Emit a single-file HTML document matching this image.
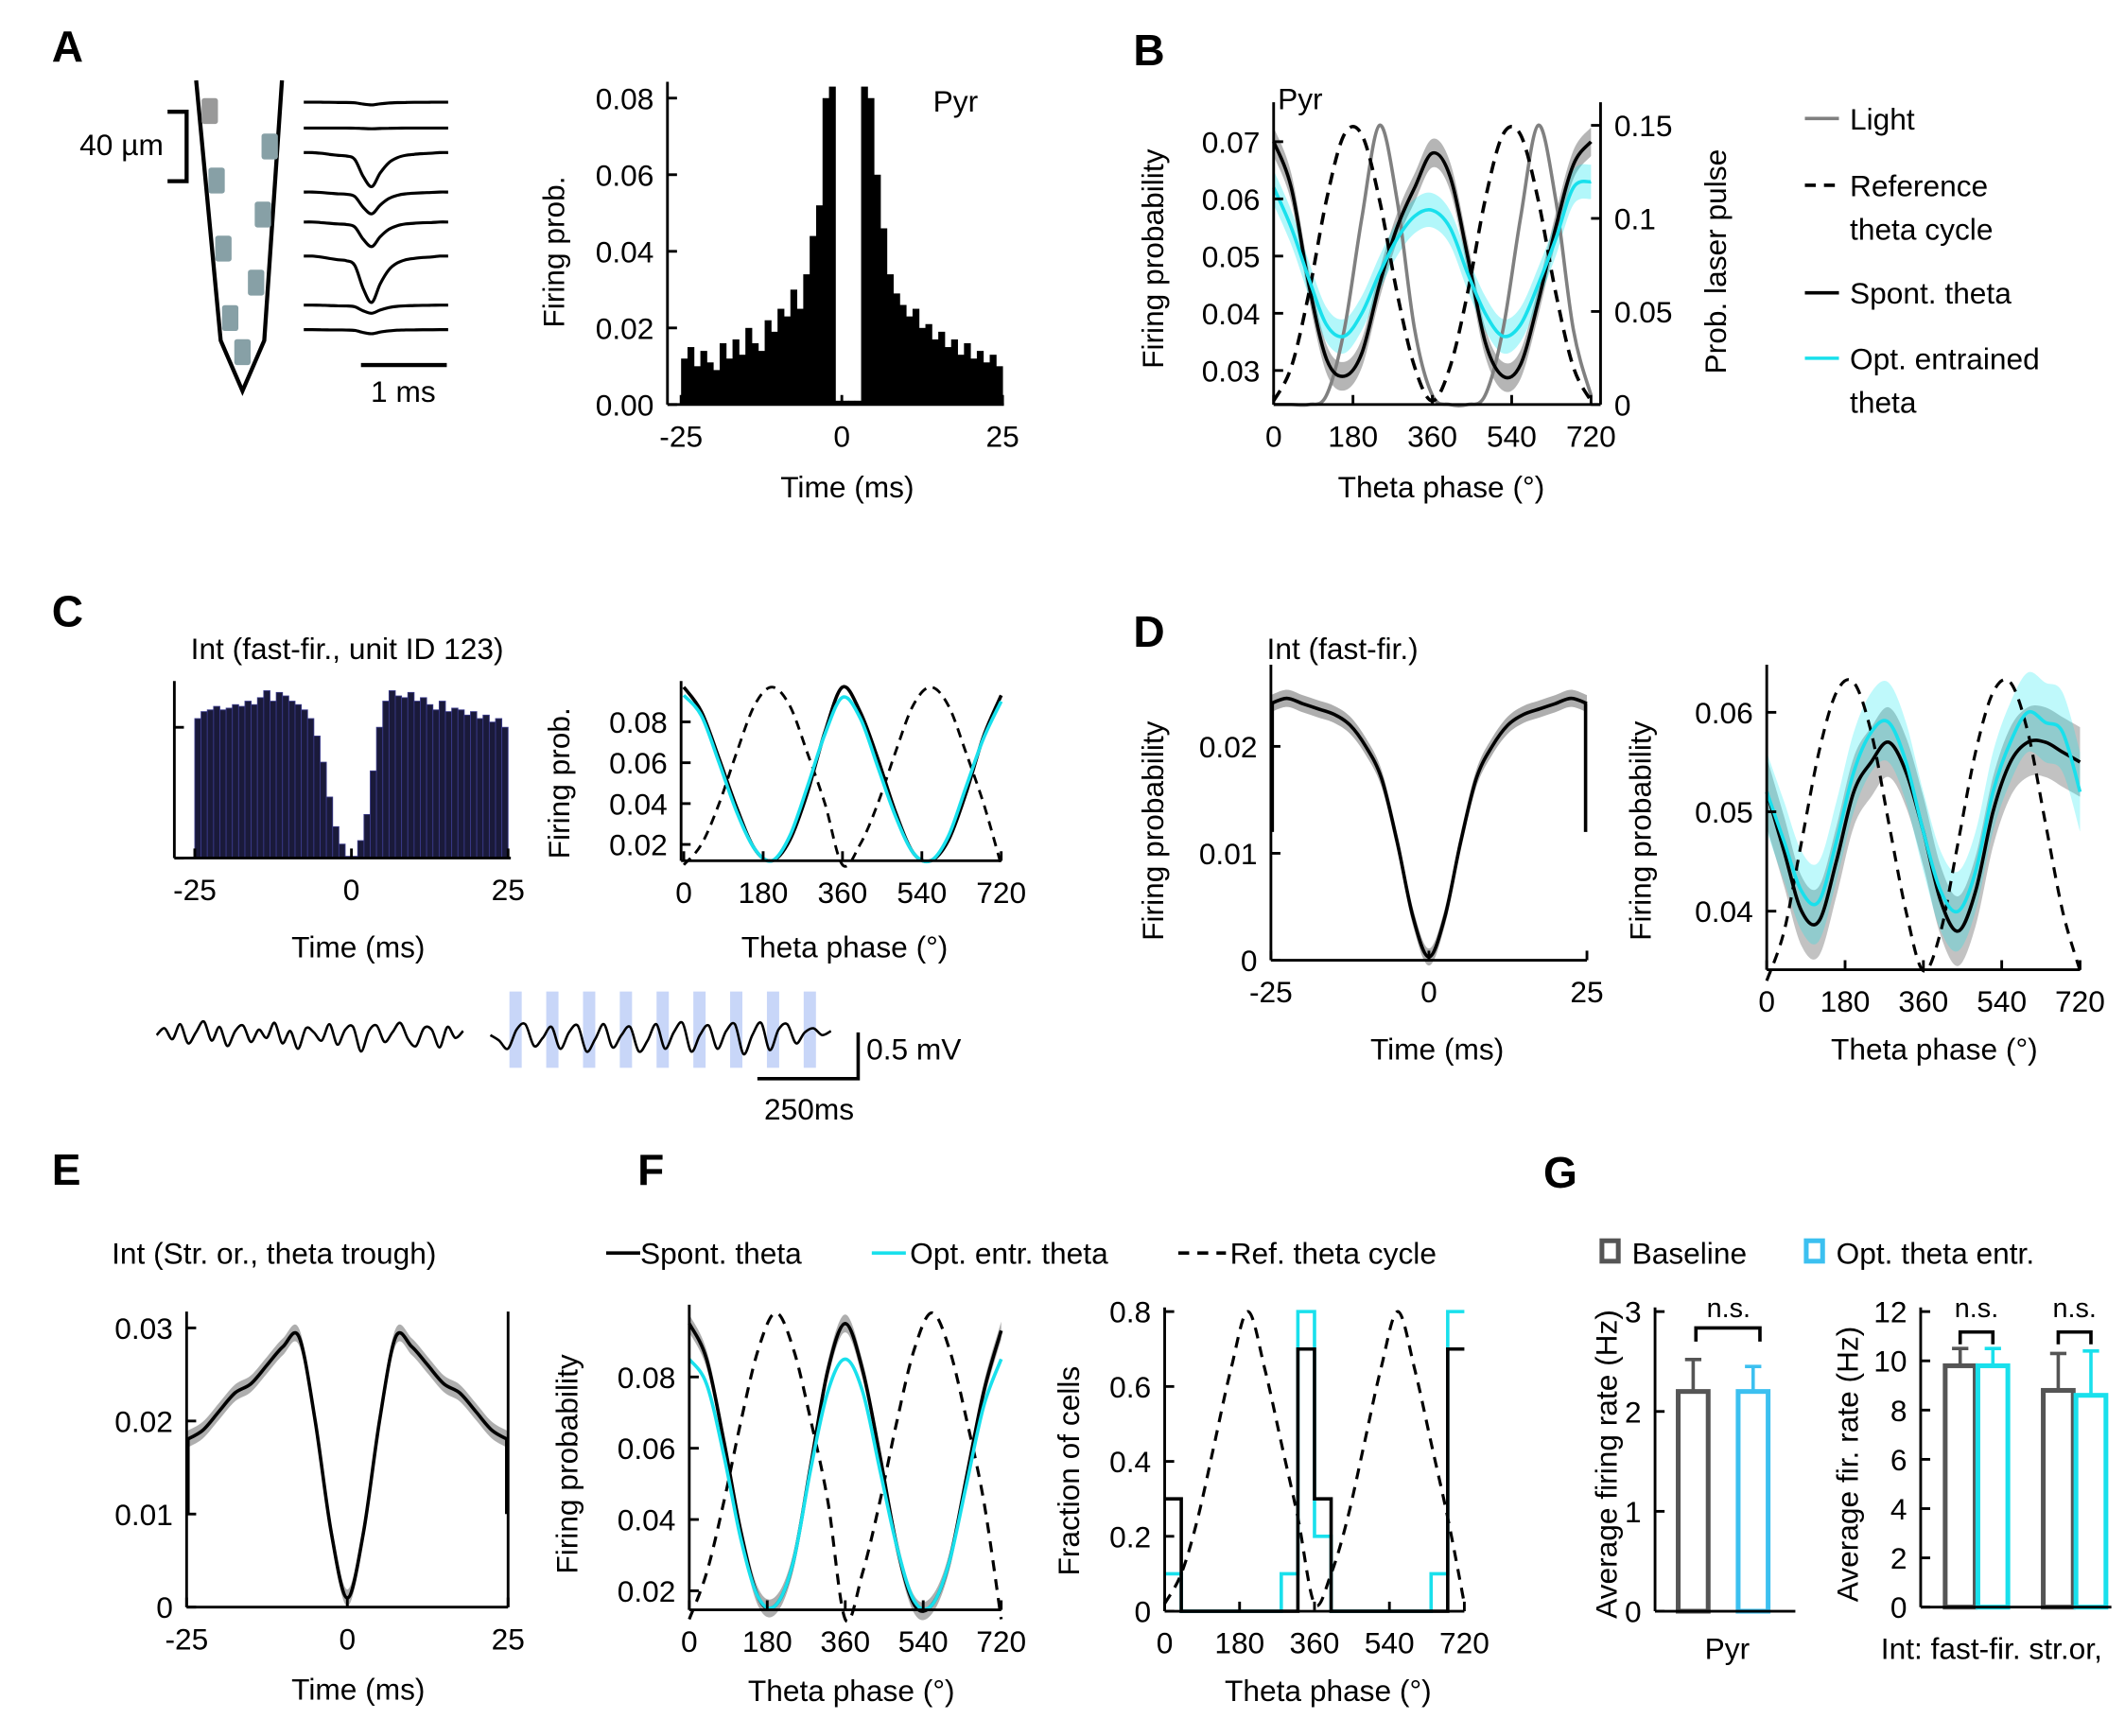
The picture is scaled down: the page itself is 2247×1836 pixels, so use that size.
<!DOCTYPE html>
<html><head><meta charset="utf-8"><style>
html,body{margin:0;padding:0;background:#fff}
svg{display:block}
text{font-family:"Liberation Sans","DejaVu Sans",sans-serif;fill:#000}
</style></head><body>
<svg id="fig" width="2247" height="1836" viewBox="0 0 1560 1274.6" xmlns="http://www.w3.org/2000/svg"></svg>
<script>
// ---------- DATA ----------
const PH = [0,40,80,120,160,200,240,280,320,360,400,440,480,520,560,600,640,680,720];
const T = [-25,-22.5,-20,-17.5,-15,-12.5,-10,-7.5,-5,-2.5,0,2.5,5,7.5,10,12.5,15,17.5,20,22.5,25];
// A
const waveBase = [75,94,112,141,163,188,224,242];
const waveAmp = [2,0.5,25,16,18,34,6,3];
const waveShape = [0,0,0.02,0.05,0.08,0.1,0.2,0.7,1,0.6,0.3,0.15,0.08,0.05,0.03,0.02,0,0];
const aHistTimes = []; for(let i=-25;i<25;i++) aHistTimes.push(i);
const aHistVals = [0.012,0.015,0.010,0.014,0.011,0.009,0.016,0.012,0.017,0.013,0.020,0.016,0.014,0.022,0.019,0.025,0.023,0.030,0.025,0.034,0.044,0.052,0.080,0.083,0.001,
                   0.001,0.001,0.001,0.083,0.080,0.060,0.046,0.034,0.029,0.026,0.023,0.025,0.020,0.021,0.017,0.019,0.015,0.017,0.013,0.016,0.012,0.014,0.011,0.013,0.010];
// B
const bSpont = [0.070,0.062,0.045,0.032,0.029,0.033,0.045,0.055,0.062,0.068,0.064,0.050,0.035,0.029,0.031,0.042,0.055,0.066,0.070];
const bOpt   = [0.062,0.055,0.046,0.038,0.036,0.040,0.047,0.053,0.057,0.058,0.055,0.047,0.040,0.036,0.038,0.045,0.053,0.062,0.063];
const bLight = [0,0,0,0.005,0.04,0.10,0.15,0.11,0.04,0.005,0,0,0.005,0.04,0.10,0.15,0.11,0.04,0.005];
const bRef   = [0.002,0.02,0.06,0.11,0.145,0.145,0.11,0.06,0.02,0.002,0.02,0.06,0.11,0.145,0.145,0.11,0.06,0.02,0.002];
// C
const cHistVals = [0.8,0.84,0.85,0.87,0.85,0.86,0.88,0.87,0.9,0.88,0.92,0.96,0.9,0.95,0.93,0.9,0.88,0.85,0.8,0.7,0.55,0.35,0.18,0.08,0.01,
                   0.01,0.1,0.25,0.5,0.75,0.9,0.96,0.93,0.92,0.95,0.9,0.92,0.88,0.85,0.9,0.84,0.86,0.85,0.82,0.84,0.8,0.82,0.78,0.8,0.75];
const cSpont = [0.097,0.085,0.062,0.038,0.018,0.012,0.022,0.045,0.075,0.097,0.085,0.062,0.036,0.016,0.012,0.022,0.045,0.073,0.093];
const cOpt   = [0.093,0.083,0.060,0.036,0.018,0.012,0.024,0.048,0.074,0.092,0.082,0.058,0.034,0.016,0.012,0.024,0.048,0.072,0.090];
const cRef   = [0.01,0.02,0.04,0.065,0.088,0.097,0.088,0.065,0.04,0.01,0.02,0.04,0.065,0.088,0.097,0.088,0.065,0.04,0.01];
const lfpSpont = [0,-5,3,-8,6,-2,-10,4,-6,8,-3,-7,5,-4,2,-9,6,-3,10,-5,-2,4,-8,7,-4,-6,12,-3,-7,5,-2,-9,3,8,-5,-4,9,-6,2,-3];
const lfpOpt   = [0,4,10,-4,-8,8,2,-6,10,-2,-7,12,3,-8,9,0,-6,12,4,-8,10,-2,-9,12,0,-7,10,-3,-8,14,0,-9,11,-4,-8,6,-2,-5,0,-3];
const pulseIdx = [0,1,2,3,4,5,6,7,8];
// D
const dTime = [0.024,0.0245,0.024,0.0235,0.023,0.022,0.020,0.017,0.011,0.004,0.0003,0.004,0.011,0.017,0.020,0.022,0.023,0.0235,0.024,0.0245,0.024];
const dSpont = [0.052,0.046,0.040,0.039,0.045,0.052,0.055,0.057,0.054,0.048,0.041,0.038,0.042,0.050,0.055,0.057,0.057,0.056,0.055];
const dOpt   = [0.052,0.047,0.042,0.041,0.047,0.054,0.058,0.059,0.055,0.048,0.042,0.040,0.044,0.052,0.057,0.060,0.059,0.058,0.052];
const dRef   = [0.033,0.038,0.047,0.056,0.062,0.063,0.058,0.049,0.040,0.034,0.038,0.047,0.056,0.062,0.063,0.058,0.049,0.040,0.034];
// E
const eTime = [0.018,0.019,0.021,0.023,0.024,0.026,0.028,0.029,0.020,0.008,0.001,0.008,0.020,0.029,0.028,0.026,0.024,0.023,0.021,0.019,0.018];
// F
const fSpont = [0.095,0.085,0.062,0.036,0.018,0.016,0.028,0.055,0.082,0.095,0.082,0.058,0.032,0.016,0.016,0.028,0.052,0.076,0.093];
const fOpt   = [0.085,0.078,0.058,0.034,0.018,0.016,0.028,0.054,0.076,0.085,0.076,0.054,0.032,0.017,0.016,0.028,0.050,0.072,0.085];
const fRef   = [0.012,0.025,0.045,0.068,0.088,0.098,0.088,0.068,0.045,0.012,0.025,0.045,0.068,0.088,0.098,0.088,0.068,0.045,0.012];
const fBins = [0,40,80,120,160,200,240,280,320,360,400,440,480,520,560,600,640,680];
const fFracSpont = [0.3,0,0,0,0,0,0,0,0.7,0.3,0,0,0,0,0,0,0,0.7];
const fFracOpt   = [0.1,0,0,0,0,0,0,0.1,0.8,0.2,0,0,0,0,0,0,0.1,0.8];
const fRefFrac   = [0.02,0.1,0.25,0.45,0.65,0.8,0.65,0.45,0.25,0.02,0.1,0.25,0.45,0.65,0.8,0.65,0.45,0.25,0.02];
// G
const gPyr = [2.2,2.2]; const gPyrErr = [2.52,2.45];
const gInt = [9.8,9.8,8.8,8.6]; const gIntErr = [10.5,10.5,10.3,10.4];

// ---------- HELPERS ----------
const NS='http://www.w3.org/2000/svg', svg=document.getElementById('fig');
function mk(tag,a,p){const e=document.createElementNS(NS,tag);for(const k in a)e.setAttribute(k,a[k]);(p||svg).appendChild(e);return e;}
function lin(d0,d1,r0,r1){return v=>r0+(v-d0)/(d1-d0)*(r1-r0);}
function txt(x,y,s,size,anchor,rot){const t=mk('text',{x:x,y:y,'font-size':size,'text-anchor':anchor||'middle'});if(rot)t.setAttribute('transform','rotate(-90 '+x+' '+y+')');t.textContent=s;return t;}
function line(x1,y1,x2,y2,w,c,dash){const l=mk('line',{x1:x1,y1:y1,x2:x2,y2:y2,stroke:c||'#000','stroke-width':w||2});if(dash)l.setAttribute('stroke-dasharray',dash);return l;}
// Catmull-Rom smoothed path through points
function smoothD(pts){let d='M'+pts[0][0].toFixed(1)+','+pts[0][1].toFixed(1);
for(let i=0;i<pts.length-1;i++){const p0=pts[Math.max(0,i-1)],p1=pts[i],p2=pts[i+1],p3=pts[Math.min(pts.length-1,i+2)];
const c1x=p1[0]+(p2[0]-p0[0])/6,c1y=p1[1]+(p2[1]-p0[1])/6,c2x=p2[0]-(p3[0]-p1[0])/6,c2y=p2[1]-(p3[1]-p1[1])/6;
d+='C'+c1x.toFixed(1)+','+c1y.toFixed(1)+' '+c2x.toFixed(1)+','+c2y.toFixed(1)+' '+p2[0].toFixed(1)+','+p2[1].toFixed(1);}return d;}
function curve(xs,ys,sx,sy,c,w,dash,name){const p=mk('path',{d:smoothD(xs.map((v,i)=>[sx(v),sy(ys[i])])),fill:'none',stroke:c,'stroke-width':w,'stroke-linejoin':'round'});if(dash)p.setAttribute('stroke-dasharray',dash);

return p;}
function band(xs,ys,e,sx,sy,c,name){const up=xs.map((v,i)=>[sx(v),sy(ys[i]+e)]);const dn=xs.map((v,i)=>[sx(v),sy(ys[i]-e)]).reverse();
const d=smoothD(up)+'L'+smoothD(dn).slice(1)+'Z';
const p=mk('path',{d:d,fill:c,stroke:'none'});

return p;}
function xAxis(y,x0,x1,sx,ticks,labels,fs,name){const l=line(x0,y,x1,y,2);


ticks.forEach((t,i)=>{line(sx(t),y,sx(t),y-7,2);const tx=txt(sx(t),y+31,labels[i],fs||22);

});}
function yAxis(x,y0,y1,sy,ticks,labels,fs,name,right){const l=line(x,y0,x,y1,2);


ticks.forEach((t,i)=>{line(x,sy(t),x+(right?-7:7),sy(t),2);if(labels){const tx=txt(right?x+10:x-10,sy(t)+8,labels[i],fs||22,right?'start':'end');

}});}
function label(x,y,s,size,name,anchor,rot,weight){const t=txt(x,y,s,size,anchor,rot);if(weight)t.setAttribute('font-weight',weight);

return t;}

// ---------- PANEL LABELS ----------
[['A',38,45],['B',832,48],['C',38,460],['D',832,475],['E',38,870],['F',468,870],['G',1133,872]].forEach(p=>{label(p[1],p[2],p[0],32,'panel-label-'+p[0].toLowerCase(),'start',false,'bold');});

// ---------- A ----------
const probe=mk('polyline',{points:'144,59 162,250 178,287 194,250 207,59',fill:'none',stroke:'#000','stroke-width':3});


[[154,82,'#999'],[198,108,'#87a0a6'],[159,133,'#87a0a6'],[193,158,'#87a0a6'],[164,183,'#87a0a6'],[188,208,'#87a0a6'],[169,234,'#87a0a6'],[178,259,'#87a0a6']].forEach(s=>{
const r=mk('rect',{x:s[0]-6,y:s[1]-10,width:12,height:19,rx:2,fill:s[2]});

});
mk('polyline',{points:'123,82 137,82 137,133 123,133',fill:'none',stroke:'#000','stroke-width':3});
label(120,114,'40 µm',22,'scale-40um','end');
const wx=lin(0,waveShape.length-1,223,329);
waveBase.forEach((b,k)=>{const p=mk('path',{d:smoothD(waveShape.map((v,i)=>[wx(i),b+v*waveAmp[k]])),fill:'none',stroke:'#000','stroke-width':2.2});

});
line(265,268,328,268,3);
label(296,295,'1 ms',22,'scale-1ms');
// A histogram
{const sx=lin(-25,25,500,736), sy=lin(0,0.08,297,72);
aHistTimes.forEach((t,i)=>{const r=mk('rect',{x:sx(t),y:sy(aHistVals[i]),width:sx(t+1)-sx(t)+0.3,height:sy(0)-sy(aHistVals[i]),fill:'#000'});

});
yAxis(490,297,60,sy,[0,0.02,0.04,0.06,0.08],['0.00','0.02','0.04','0.06','0.08'],22,'a-y-axis');
xAxis(297,490,737,sx,[-25,0,25],['-25','0','25'],22,'a-x-axis');
label(718,82,'Pyr',22,'a-title','end');
label(414,185,'Firing prob.',22,'a-y-title','middle',true);
label(622,365,'Time (ms)',22,'a-x-title');}

// ---------- B ----------
{const sx=lin(0,720,935,1168), sy=lin(0.03,0.07,272,104), sr=lin(0,0.15,297,92);
band(PH,bSpont,0.0025,sx,sy,'rgba(120,120,120,0.55)','b-spont-sem');
band(PH,bOpt,0.003,sx,sy,'rgba(0,230,240,0.3)','b-opt-sem');
curve(PH,bLight,sx,sr,'#808080',2.5,null,'b-light-curve');
curve(PH,bRef,sx,sr,'#000',2.5,'9,6','b-ref-curve');
curve(PH,bSpont,sx,sy,'#000',2.5,null,'b-spont-curve');
curve(PH,bOpt,sx,sy,'#19e0ec',2.5,null,'b-opt-curve');
yAxis(935,297,75,sy,[0.03,0.04,0.05,0.06,0.07],['0.03','0.04','0.05','0.06','0.07'],22,'b-y-axis');
yAxis(1175,297,75,sr,[0,0.05,0.1,0.15],['0','0.05','0.1','0.15'],22,'b-y2-axis',true);
xAxis(297,935,1175,sx,[0,180,360,540,720],['0','180','360','540','720'],22,'b-x-axis');
label(938,80,'Pyr',22,'b-title','start');
label(854,190,'Firing probability',22,'b-y-title','middle',true);
label(1267,192,'Prob. laser pulse',22,'b-y2-title','middle',true);
label(1058,365,'Theta phase (°)',22,'b-x-title');
line(1325,87,1350,87,2.5,'#808080'); label(1358,95,'Light',22,'legend-light','start');
line(1325,136,1350,136,2.5,'#000','8,6'); label(1358,144,'Reference',22,'legend-ref','start'); label(1358,176,'theta cycle',22,'legend-ref-2','start');
line(1325,215,1350,215,2.5,'#000'); label(1358,223,'Spont. theta',22,'legend-spont','start');
line(1325,263,1350,263,2.5,'#19e0ec'); label(1358,271,'Opt. entrained',22,'legend-opt','start'); label(1358,303,'theta',22,'legend-opt-2','start');}

// ---------- C ----------
{const sx=lin(-25,25,143,373), sy=lin(0,1,630,502);
aHistTimes.forEach((t,i)=>{const r=mk('rect',{x:sx(t),y:sy(cHistVals[i]),width:sx(t+1)-sx(t),height:sy(0)-sy(cHistVals[i]),fill:'#1a1a3a',stroke:'#3a3a8a','stroke-width':0.6});

});
yAxis(128,630,500,sy,[0,0.75],null,22,'c-y-axis');
xAxis(630,128,375,sx,[-25,0,25],['-25','0','25'],22,'c-x-axis');
label(140,484,'Int (fast-fir., unit ID 123)',22,'c-title','start');
label(263,703,'Time (ms)',22,'c-x-title');}
{const sx=lin(0,720,502,735), sy=lin(0.02,0.08,620,530);
curve(PH,cRef,sx,sy,'#000',2,'7,5','c-ref-curve');
curve(PH,cSpont,sx,sy,'#000',2.5,null,'c-spont-curve');
curve(PH,cOpt,sx,sy,'#19e0ec',2.5,null,'c-opt-curve');
yAxis(500,632,500,sy,[0.02,0.04,0.06,0.08],['0.02','0.04','0.06','0.08'],22,'c2-y-axis');
xAxis(632,500,735,sx,[0,180,360,540,720],['0','180','360','540','720'],22,'c2-x-axis');
label(418,575,'Firing prob.',22,'c2-y-title','middle',true);
label(620,703,'Theta phase (°)',22,'c2-x-title');}
{const sx1=lin(0,lfpSpont.length-1,115,340), sx2=lin(0,lfpOpt.length-1,360,610), sy=v=>760+v;
pulseIdx.forEach(k=>{const r=mk('rect',{x:374+k*27,y:728,width:9,height:56,fill:'#c8d6f8'});

});
curve(lfpSpont.map((v,i)=>i),lfpSpont,sx1,sy,'#000',1.8,null,'lfp-spont-trace');
curve(lfpOpt.map((v,i)=>i),lfpOpt,sx2,sy,'#000',1.8,null,'lfp-opt-trace');
mk('polyline',{points:'630,758 630,792 556,792',fill:'none',stroke:'#000','stroke-width':2.5});
label(636,778,'0.5 mV',22,'scale-mv','start');
label(594,822,'250ms',22,'scale-ms');}

// ---------- D ----------
{const sx=lin(-25,25,933,1165), sy=lin(0,0.02,705,548);
band(T,dTime,0.0008,sx,sy,'rgba(120,120,120,0.6)','d-sem');
curve(T,dTime,sx,sy,'#000',2.5,null,'d-acg-curve');
line(934,sy(0.012),934,sy(0.024),2.5); line(1164,sy(0.012),1164,sy(0.024),2.5);
yAxis(933,705,488,sy,[0,0.01,0.02],['0','0.01','0.02'],22,'d-y-axis');
xAxis(705,933,1165,sx,[-25,0,25],['-25','0','25'],22,'d-x-axis');
label(930,484,'Int (fast-fir.)',22,'d-title','start');
label(854,610,'Firing probability',22,'d-y-title','middle',true);
label(1055,778,'Time (ms)',22,'d-x-title');}
{const sx=lin(0,720,1297,1527), sy=lin(0.04,0.06,669,523);
band(PH,dSpont,0.0035,sx,sy,'rgba(120,120,120,0.45)','d2-spont-sem');
band(PH,dOpt,0.004,sx,sy,'rgba(0,230,240,0.25)','d2-opt-sem');
curve(PH,dRef,sx,sy,'#000',2.2,'8,6','d2-ref-curve');
curve(PH,dSpont,sx,sy,'#000',2.5,null,'d2-spont-curve');
curve(PH,dOpt,sx,sy,'#19e0ec',2.5,null,'d2-opt-curve');
yAxis(1297,712,488,sy,[0.04,0.05,0.06],['0.04','0.05','0.06'],22,'d2-y-axis');
xAxis(712,1297,1527,sx,[0,180,360,540,720],['0','180','360','540','720'],22,'d2-x-axis');
label(1212,610,'Firing probability',22,'d2-y-title','middle',true);
label(1420,778,'Theta phase (°)',22,'d2-x-title');}

// ---------- E ----------
{const sx=lin(-25,25,137,373), sy=lin(0,0.03,1180,975);
band(T,eTime,0.0009,sx,sy,'rgba(120,120,120,0.6)','e-sem');
curve(T,eTime,sx,sy,'#000',2.5,null,'e-acg-curve');
line(138,sy(0.01),138,sy(0.018),2.5); line(372,sy(0.01),372,sy(0.018),2.5);
yAxis(137,1180,963,sy,[0,0.01,0.02,0.03],['0','0.01','0.02','0.03'],22,'e-y-axis');
line(373,1180,373,963,2);
xAxis(1180,137,373,sx,[-25,0,25],['-25','0','25'],22,'e-x-axis');
label(82,928,'Int (Str. or., theta trough)',22,'e-title','start');
label(263,1248,'Time (ms)',22,'e-x-title');}

// ---------- F ----------
line(445,920,470,920,2.5); label(470,928,'Spont. theta',22,'f-legend-spont','start');
line(640,920,665,920,2.5,'#19e0ec'); label(668,928,'Opt. entr. theta',22,'f-legend-opt','start');
line(865,920,900,920,2.5,'#000','8,6'); label(903,928,'Ref. theta cycle',22,'f-legend-ref','start');
{const sx=lin(0,720,506,735), sy=lin(0.02,0.08,1168,1011);
band(PH,fSpont,0.0025,sx,sy,'rgba(120,120,120,0.6)','f-spont-sem');
curve(PH,fRef,sx,sy,'#000',2.2,'8,6','f-ref-curve');
curve(PH,fSpont,sx,sy,'#000',2.5,null,'f-spont-curve');
curve(PH,fOpt,sx,sy,'#19e0ec',2.5,null,'f-opt-curve');
yAxis(506,1182,958,sy,[0.02,0.04,0.06,0.08],['0.02','0.04','0.06','0.08'],22,'f-y-axis');
xAxis(1182,506,735,sx,[0,180,360,540,720],['0','180','360','540','720'],22,'f-x-axis');
label(424,1075,'Firing probability',22,'f-y-title','middle',true);
label(625,1249,'Theta phase (°)',22,'f-x-title');}
{const sx=lin(0,720,855,1075), sy=lin(0,0.8,1183,963);
curve(PH,fRefFrac,sx,sy,'#000',2.2,'8,6','f2-ref-curve');
function steps(vals,c,name){let d='';fBins.forEach((b,i)=>{d+=(i?'L':'M')+sx(b).toFixed(1)+','+sy(vals[i]).toFixed(1)+'L'+sx(b+40).toFixed(1)+','+sy(vals[i]).toFixed(1);});
const p=mk('path',{d:d,fill:'none',stroke:c,'stroke-width':2.5});

}
steps(fFracOpt,'#19e0ec','f2-opt-hist');
steps(fFracSpont,'#000','f2-spont-hist');
yAxis(855,1183,960,sy,[0,0.2,0.4,0.6,0.8],['0','0.2','0.4','0.6','0.8'],22,'f2-y-axis');
xAxis(1183,855,1075,sx,[0,180,360,540,720],['0','180','360','540','720'],22,'f2-x-axis');
label(792,1080,'Fraction of cells',22,'f2-y-title','middle',true);
label(975,1249,'Theta phase (°)',22,'f2-x-title');}

// ---------- G ----------
{const s1=mk('rect',{x:1176,y:911,width:12,height:15,fill:'none',stroke:'#555','stroke-width':3.5});


label(1198,928,'Baseline',22,'g-legend-baseline','start');
const s2=mk('rect',{x:1326,y:911,width:12,height:15,fill:'none',stroke:'#3cc0f0','stroke-width':3.5});


label(1348,928,'Opt. theta entr.',22,'g-legend-opt','start');}
function gBars(vals,errs,xs,sy,cols,name){vals.forEach((v,i)=>{
const r=mk('rect',{x:xs[i],y:sy(v),width:22,height:sy(0)-sy(v),fill:'none',stroke:cols[i],'stroke-width':3.5});


line(xs[i]+11,sy(v),xs[i]+11,sy(errs[i]),2.5,cols[i]);
line(xs[i]+5,sy(errs[i]),xs[i]+17,sy(errs[i]),2.5,cols[i]);});}
{const sy=lin(0,3,1183,963);
gBars(gPyr,gPyrErr,[1232,1276],sy,['#555','#3cc0f0'],'g-pyr');
yAxis(1215,1183,960,sy,[0,1,2,3],['0','1','2','3'],22,'g-y-axis');
line(1215,1183,1318,1183,2);
mk('polyline',{points:'1245,985 1245,975 1292,975 1292,985',fill:'none',stroke:'#000','stroke-width':2.5});
label(1269,967,'n.s.',20,'g-ns-pyr');
label(1187,1075,'Average firing rate (Hz)',22,'g-y-title','middle',true);
label(1268,1218,'Pyr',22,'g-x-label');}
{const sy=lin(0,12,1180,963);
gBars(gInt,gIntErr,[1428,1452,1500,1524],sy,['#555','#19e0ec','#555','#19e0ec'],'g-int');
yAxis(1410,1180,960,sy,[0,2,4,6,8,10,12],['0','2','4','6','8','10','12'],22,'g2-y-axis');
line(1410,1180,1550,1180,2);
mk('polyline',{points:'1439,987 1439,978 1463,978 1463,987',fill:'none',stroke:'#000','stroke-width':2.5});
mk('polyline',{points:'1511,987 1511,978 1535,978 1535,987',fill:'none',stroke:'#000','stroke-width':2.5});
label(1451,967,'n.s.',20,'g-ns-fast');
label(1523,967,'n.s.',20,'g-ns-str');
label(1364,1075,'Average fir. rate (Hz)',22,'g2-y-title','middle',true);
label(1462,1218,'Int: fast-fir. str.or,',22,'g2-x-label');}
</script>
</body></html>
